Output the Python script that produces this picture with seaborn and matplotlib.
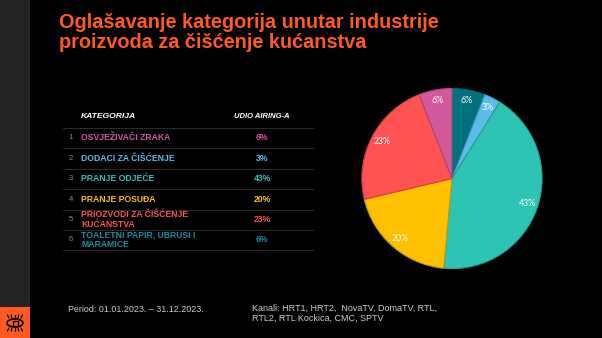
import matplotlib
matplotlib.use("Agg")
import matplotlib.pyplot as plt
import matplotlib.patches as mpatches
import matplotlib.colors as mcolors
import seaborn as sns

# ---- data ----
categories = [
    "OSVJEŽIVAČI ZRAKA",
    "DODACI ZA ČIŠĆENJE",
    "PRANJE ODJEĆE",
    "PRANJE POSUĐA",
    "PRIOZVODI ZA ČIŠĆENJE\nKUĆANSTVA",
    "TOALETNI PAPIR, UBRUSI I\nMARAMICE",
]
shares = [6, 3, 43, 20, 23, 6]
slice_colors = ["#D2599B", "#5CBCE8", "#2EC4B4", "#FFC000", "#FF5252", "#00727E"]
text_colors = ["#D2599B", "#5CBCE8", "#2EC4B4", "#FFC000", "#FF5252", "#1B8FA3"]
# clockwise order of slices around the pie, starting at 12 o'clock
pie_order = [5, 1, 2, 3, 4, 0]

title_lines = "Oglašavanje kategorija unutar industrije\nproizvoda za čišćenje kućanstva"
period_text = "Period: 01.01.2023. – 31.12.2023."
channels_text = "Kanali: HRT1, HRT2,  NovaTV, DomaTV, RTL,\nRTL2, RTL Kockica, CMC, SPTV"

W, H = 602, 338
ORANGE = "#FF5A1F"

sns.set_theme(style="dark", rc={"figure.facecolor": "black", "axes.facecolor": "black"})
plt.rcParams["font.family"] = ["Liberation Sans", "DejaVu Sans"]
palette = sns.color_palette(slice_colors)

fig = plt.figure(figsize=(W / 100, H / 100), dpi=100)
fig.patch.set_facecolor("black")

# background canvas in pixel coordinates
bg = fig.add_axes([0, 0, 1, 1])
bg.set_xlim(0, W)
bg.set_ylim(H, 0)
bg.axis("off")

# left side strip and logo tile
bg.add_patch(mpatches.Rectangle((0, 0), 30, 307, color="#242424", lw=0))
bg.add_patch(mpatches.Rectangle((0, 307), 30, 31, color=ORANGE, lw=0))
# eye logo
ex, ey = 15, 323
bg.add_patch(mpatches.Ellipse((ex, ey), 16, 8, fill=False, ec="black", lw=1.2))
bg.add_patch(mpatches.Rectangle((ex - 2.5, ey - 2.5), 5, 5, fill=False, ec="black", lw=1.0))
for dx in (-6, -3, 0, 3, 6):
    bg.plot([ex + dx, ex + dx * 1.25], [ey - 5, ey - 8], color="black", lw=0.9)
    bg.plot([ex + dx, ex + dx * 1.25], [ey + 5, ey + 8], color="black", lw=0.9)

# title
bg.text(59, 12.5, title_lines, color=ORANGE, fontsize=14.3, fontweight="bold",
        va="top", ha="left", linespacing=1.12)

# table
x_num, x_lab, x_val = 71, 81, 262
bg.text(x_lab, 117, "KATEGORIJA", color="white", fontsize=6.1, fontweight="bold",
        fontstyle="italic", va="center", ha="left")
bg.text(x_val, 117, "UDIO AIRING-A", color="white", fontsize=5.5, fontweight="bold",
        fontstyle="italic", va="center", ha="center")
sep_y = [127.5, 148, 168.5, 189, 209.5, 229.5, 250]
for y in sep_y:
    bg.plot([63, 313], [y, y], color="#2a2a2a", lw=0.8)
for i, (cat, val) in enumerate(zip(categories, shares)):
    yc = (sep_y[i] + sep_y[i + 1]) / 2
    bg.text(x_num, yc, str(i + 1), color="#8a8a8a", fontsize=5.6, va="center", ha="center")
    bg.text(x_lab, yc, cat, color=text_colors[i], fontsize=6.2, fontweight="bold",
            va="center", ha="left", linespacing=1.1)
    bg.text(x_val, yc, f"{val}%", color=text_colors[i], fontsize=6.2, fontweight="bold",
            va="center", ha="center")

# footer
bg.text(68, 309, period_text, color="#cfcfcf", fontsize=6.4, va="center", ha="left")
bg.text(252, 313.5, channels_text, color="#cfcfcf", fontsize=6.5, va="center", ha="left",
        linespacing=1.15)

# pie chart
cx, cy, r = 452, 178.5, 91
pax = fig.add_axes([(cx - r) / W, (H - cy - r) / H, 2 * r / W, 2 * r / H])
vals = [shares[i] for i in pie_order]
cols = [palette[i] for i in pie_order]
edges = [tuple(c * 0.8 for c in mcolors.to_rgb(col)) for col in cols]
wedges, texts, autotexts = pax.pie(
    vals, colors=cols, startangle=90, counterclock=False,
    autopct=lambda p: f"{round(p * sum(vals) / 100)}%", pctdistance=0.88,
    wedgeprops=dict(linewidth=0.8),
    textprops=dict(color="white", fontsize=6.3, fontfamily="Lato"),
)
for w, e in zip(wedges, edges):
    w.set_edgecolor(e)
pax.set_xlim(-1.01, 1.01)
pax.set_ylim(-1.01, 1.01)
pax.set_aspect("equal")
pax.axis("off")

fig.savefig("out.png", dpi=100, facecolor="black")
